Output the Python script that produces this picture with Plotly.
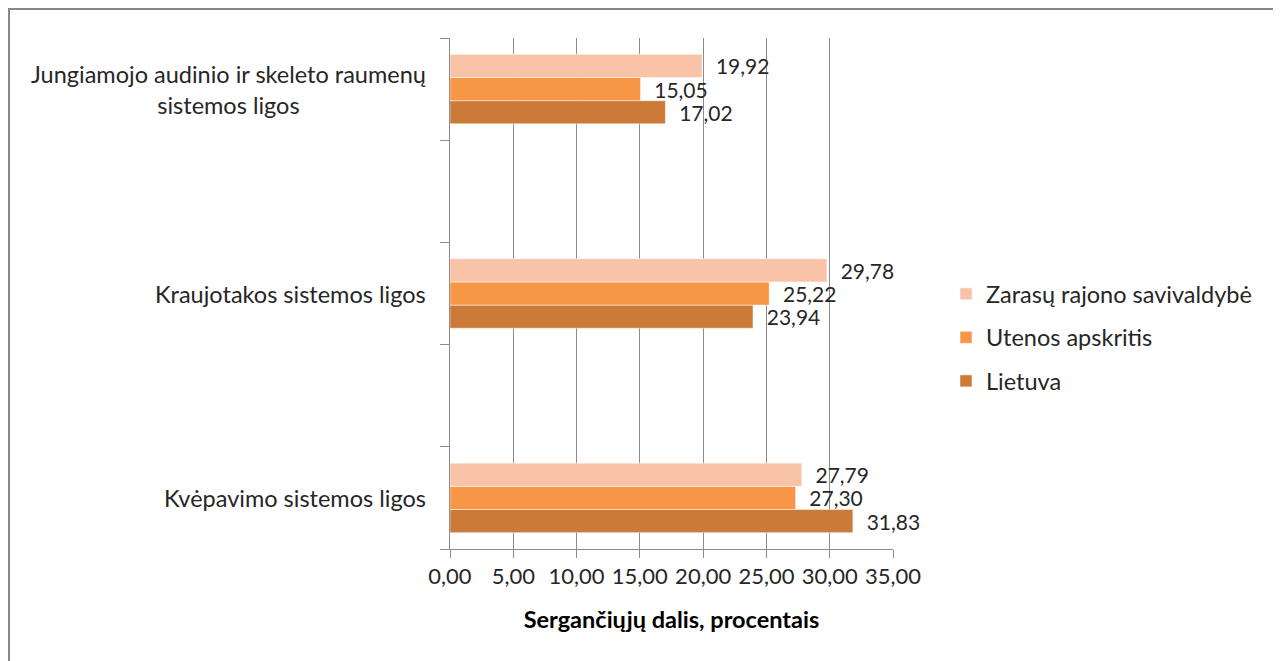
import plotly.graph_objects as go

# Data (bottom to top as drawn)
categories = [
    "Kvėpavimo sistemos ligos",
    "Kraujotakos sistemos ligos",
    "Jungiamojo audinio ir skeleto raumenų<br>sistemos ligos",
]
series_names = ["Lietuva", "Utenos apskritis", "Zarasų rajono savivaldybė"]
lietuva = [31.83, 23.94, 17.02]
utenos = [27.30, 25.22, 15.05]
zarasai = [27.79, 29.78, 19.92]
x_ticks = [0, 5, 10, 15, 20, 25, 30, 35]
x_title = "Sergančiųjų dalis, procentais"

colors = ["#CC7A38", "#F79646", "#F9C3A8"]
FONT = "Lato"
TXT = "#262626"

W, H = 1273, 653
L, T, PW, PH = 442, 30, 443, 511

ypos = [2 * i for i in range(len(categories))]
n = len(series_names)

fig = go.Figure()
for i, (name, vals, col) in enumerate(zip(series_names, [lietuva, utenos, zarasai], colors)):
    fig.add_trace(go.Bar(
        y=ypos, x=vals, name=name, orientation="h",
        marker=dict(color=col, line=dict(color="white", width=0.5)),
        texttemplate="\u00a0\u00a0%{x:.2f}", textposition="outside",
        constraintext="none",
        textfont=dict(family=FONT, size=21, color=TXT),
        cliponaxis=False, legendgroup=name, legendrank=n - i,
    ))

annotations = []
for y, c in zip(ypos, categories):
    annotations.append(dict(
        x=0, xref="paper", y=y, yref="y", text=c, showarrow=False,
        xanchor="right", yanchor="middle", xshift=-22, align="center",
        font=dict(family=FONT, size=23.5, color=TXT),
    ))

def px_x(p):
    return (p - L) / PW

def px_y(p):
    return (T + PH - p) / PH

fig.update_layout(
    width=W, height=H,
    margin=dict(l=L, r=W - L - PW, t=T, b=H - T - PH),
    paper_bgcolor="white", plot_bgcolor="white",
    separators=",.",
    barmode="group", bargap=0.66, bargroupgap=0,
    font=dict(family=FONT, size=22, color=TXT),
    showlegend=True,
    legend=dict(
        xref="container", yref="container", x=938 / W, y=1 - 264 / H,
        xanchor="left", yanchor="top", traceorder="grouped",
        tracegroupgap=10, font=dict(family=FONT, size=23.5, color=TXT),
        bgcolor="rgba(0,0,0,0)",
    ),
    annotations=annotations,
    shapes=[dict(type="rect", xref="paper", yref="paper",
                 x0=px_x(1), x1=px_x(1267),
                 y0=px_y(680), y1=px_y(1),
                 line=dict(color="#888888", width=2), fillcolor="rgba(0,0,0,0)",
                 layer="below")],
    xaxis=dict(
        range=[0, 35], tickvals=x_ticks, tickformat=".2f",
        showgrid=True, gridcolor="#8C8C8C", gridwidth=1,
        showline=True, linecolor="#8C8C8C", linewidth=1,
        ticks="outside", ticklen=8, tickcolor="#8C8C8C",
        zeroline=False, tickfont=dict(family=FONT, size=22, color=TXT),
        title=dict(text="<b>" + x_title + "</b>", standoff=23,
                   font=dict(family=FONT, size=23.5, color="#000000")),
    ),
    yaxis=dict(
        range=[-0.5, 4.5], tickvals=ypos, ticktext=[""] * len(ypos),
        showgrid=False, zeroline=False,
        showline=True, linecolor="#8C8C8C", linewidth=1,
        ticks="",
        minor=dict(tick0=-0.5, dtick=1, ticks="outside", ticklen=9,
                   tickcolor="#8C8C8C", showgrid=False),
    ),
)

fig.write_html("out.html")
